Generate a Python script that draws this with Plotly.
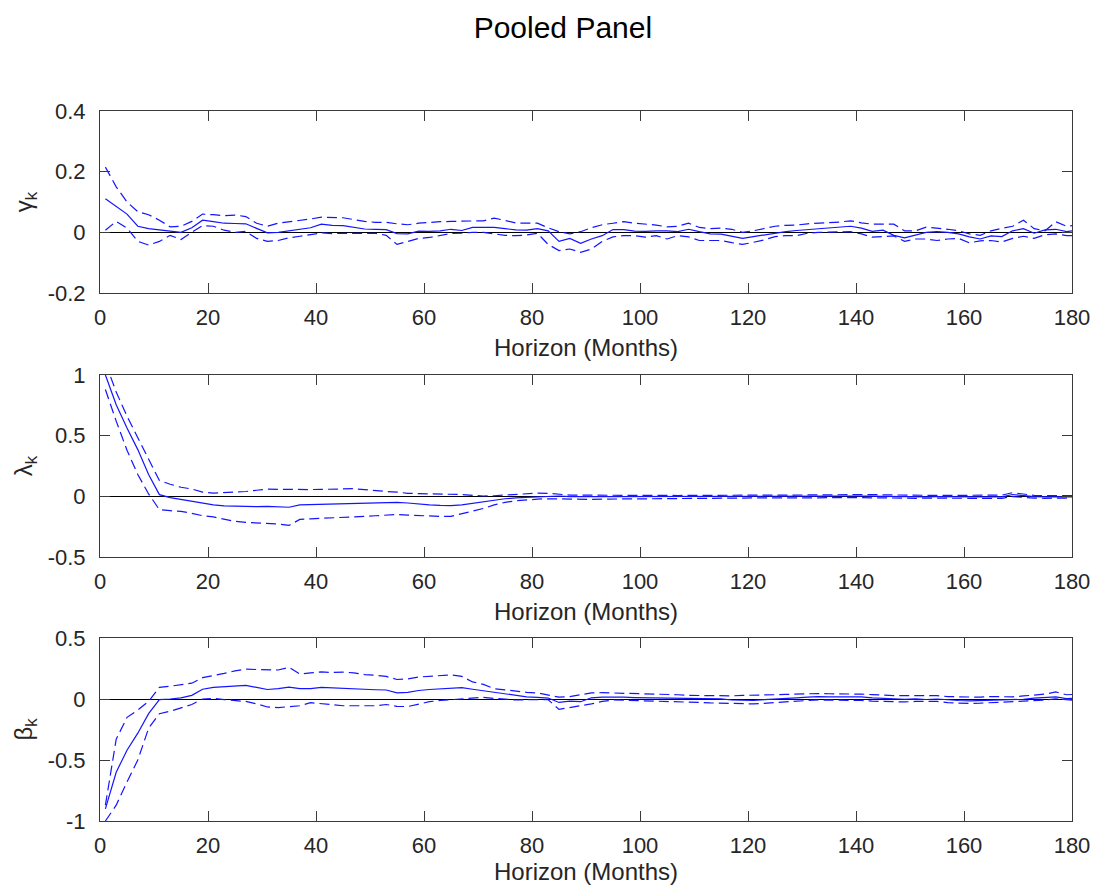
import plotly.graph_objects as go

# Horizons (months) at which the impulse responses are shown
horizon = list(range(1, 180, 2)) + [180]

# gamma_k: point estimate and confidence band
gamma_mid = [
    0.111, 0.085, 0.060, 0.020, 0.012, 0.008, 0.003, 0.000, 0.015, 0.040,
    0.035, 0.030, 0.029, 0.028, 0.013, -0.002, 0.000, 0.005, 0.009, 0.015,
    0.027, 0.023, 0.022, 0.017, 0.011, 0.010, 0.009, -0.004, -0.005, 0.004,
    0.003, 0.005, 0.010, 0.006, 0.016, 0.016, 0.016, 0.012, 0.008, 0.007,
    0.012, 0.005, -0.030, -0.020, -0.036, -0.022, -0.011, 0.009, 0.009, 0.004,
    0.003, 0.005, 0.005, 0.002, 0.010, 0.002, -0.005, -0.006, -0.013, -0.020,
    -0.014, -0.008, -0.003, 0.002, 0.006, 0.009, 0.012, 0.014, 0.017, 0.020,
    0.014, 0.003, 0.007, -0.010, -0.018, -0.010, 0.000, 0.002, 0.000, -0.005,
    -0.015, -0.022, -0.012, -0.014, 0.005, 0.012, -0.003, 0.008, 0.010, 0.002,
    0.005,
]
gamma_hi = [
    0.215, 0.150, 0.100, 0.068, 0.058, 0.040, 0.018, 0.020, 0.036, 0.060,
    0.058, 0.055, 0.057, 0.052, 0.030, 0.020, 0.030, 0.034, 0.038, 0.044,
    0.050, 0.050, 0.048, 0.042, 0.036, 0.033, 0.033, 0.028, 0.025, 0.030,
    0.033, 0.035, 0.036, 0.036, 0.036, 0.038, 0.047, 0.038, 0.031, 0.030,
    0.030, 0.015, 0.002, -0.005, 0.002, 0.015, 0.025, 0.030, 0.035, 0.030,
    0.027, 0.024, 0.018, 0.020, 0.030, 0.016, 0.012, 0.014, 0.010, 0.000,
    0.005, 0.012, 0.020, 0.023, 0.024, 0.028, 0.030, 0.030, 0.034, 0.038,
    0.031, 0.027, 0.027, 0.027, 0.005, 0.005, 0.017, 0.014, 0.010, 0.005,
    -0.005, -0.010, 0.005, 0.013, 0.020, 0.040, 0.012, 0.005, 0.035, 0.020,
    0.022,
]
gamma_lo = [
    0.007, 0.036, 0.014, -0.030, -0.042, -0.030, -0.010, -0.024, 0.000, 0.022,
    0.020, 0.007, 0.000, 0.003, -0.020, -0.030, -0.027, -0.018, -0.013, -0.008,
    -0.002, -0.004, -0.004, -0.004, -0.004, -0.003, -0.010, -0.040, -0.030, -0.020,
    -0.017, -0.011, -0.004, -0.003, 0.000, 0.000, -0.005, -0.010, -0.011, -0.009,
    -0.003, -0.040, -0.060, -0.055, -0.066, -0.055, -0.030, -0.015, -0.011, -0.011,
    -0.016, -0.011, -0.022, -0.011, -0.015, -0.027, -0.027, -0.027, -0.034, -0.040,
    -0.033, -0.025, -0.014, -0.011, -0.011, -0.003, 0.000, 0.000, 0.000, 0.002,
    -0.005, -0.016, -0.014, -0.012, -0.030, -0.022, -0.022, -0.027, -0.022, -0.020,
    -0.035, -0.028, -0.027, -0.032, -0.020, -0.013, -0.020, -0.008, -0.005, -0.011,
    -0.011,
]

# lambda_k: point estimate and confidence band
lambda_mid = [
    1.000, 0.755, 0.563, 0.385, 0.180, 0.014, -0.010, -0.025, -0.045, -0.058,
    -0.070, -0.078, -0.082, -0.085, -0.085, -0.082, -0.085, -0.090, -0.070, -0.068,
    -0.065, -0.062, -0.060, -0.060, -0.058, -0.056, -0.053, -0.050, -0.055, -0.065,
    -0.070, -0.075, -0.077, -0.070, -0.058, -0.045, -0.030, -0.020, -0.013, -0.008,
    -0.005, 0.000, 0.003, -0.002, -0.004, -0.004, -0.003, -0.002, -0.002, -0.003,
    -0.003, -0.004, -0.004, -0.003, -0.003, -0.002, -0.002, -0.001, 0.000, 0.001,
    0.001, 0.000, -0.001, -0.001, -0.002, -0.001, 0.000, 0.002, 0.003, 0.004,
    0.003, 0.002, 0.000, -0.002, -0.003, -0.004, -0.004, -0.003, -0.002, -0.002,
    -0.003, -0.004, -0.005, -0.004, 0.015, 0.005, -0.002, -0.004, -0.005, -0.004,
    -0.004,
]
lambda_hi = [
    1.100, 0.860, 0.660, 0.480, 0.300, 0.130, 0.100, 0.075, 0.060, 0.035,
    0.027, 0.030, 0.033, 0.040, 0.050, 0.060, 0.058, 0.056, 0.055, 0.056,
    0.057, 0.058, 0.062, 0.063, 0.055, 0.045, 0.040, 0.035, 0.025, 0.022,
    0.020, 0.020, 0.020, 0.015, 0.008, 0.003, 0.005, 0.010, 0.018, 0.025,
    0.027, 0.025, 0.015, 0.010, 0.010, 0.009, 0.008, 0.008, 0.008, 0.007,
    0.007, 0.006, 0.006, 0.007, 0.008, 0.009, 0.010, 0.010, 0.011, 0.012,
    0.012, 0.011, 0.010, 0.010, 0.011, 0.012, 0.014, 0.016, 0.018, 0.018,
    0.017, 0.015, 0.012, 0.010, 0.008, 0.008, 0.007, 0.008, 0.008, 0.008,
    0.007, 0.006, 0.007, 0.010, 0.030, 0.020, 0.008, 0.006, 0.005, 0.006,
    0.006,
]
lambda_lo = [
    0.880, 0.620, 0.380, 0.180, 0.020, -0.110, -0.118, -0.124, -0.140, -0.160,
    -0.170, -0.190, -0.206, -0.215, -0.220, -0.225, -0.228, -0.240, -0.190, -0.185,
    -0.182, -0.180, -0.175, -0.170, -0.165, -0.160, -0.155, -0.150, -0.155, -0.160,
    -0.165, -0.165, -0.165, -0.145, -0.120, -0.100, -0.070, -0.050, -0.037, -0.028,
    -0.023, -0.020, -0.022, -0.025, -0.027, -0.025, -0.023, -0.022, -0.021, -0.020,
    -0.020, -0.019, -0.018, -0.018, -0.017, -0.016, -0.015, -0.015, -0.014, -0.013,
    -0.012, -0.012, -0.012, -0.013, -0.014, -0.013, -0.012, -0.010, -0.009, -0.009,
    -0.010, -0.012, -0.014, -0.015, -0.016, -0.016, -0.015, -0.014, -0.014, -0.015,
    -0.016, -0.017, -0.017, -0.016, -0.002, -0.010, -0.015, -0.016, -0.015, -0.014,
    -0.014,
]

# beta_k: point estimate and confidence band
beta_mid = [
    -0.900, -0.600, -0.420, -0.280, -0.120, -0.005, 0.000, 0.010, 0.030, 0.080,
    0.096, 0.100, 0.102, 0.112, 0.095, 0.078, 0.085, 0.098, 0.085, 0.086,
    0.095, 0.090, 0.088, 0.085, 0.080, 0.076, 0.074, 0.050, 0.055, 0.070,
    0.078, 0.085, 0.092, 0.093, 0.080, 0.068, 0.055, 0.045, 0.032, 0.018,
    0.014, 0.008, -0.028, -0.018, -0.022, 0.010, 0.016, 0.018, 0.015, 0.012,
    0.010, 0.008, 0.012, 0.006, 0.004, 0.006, 0.003, 0.002, -0.008, -0.010,
    -0.012, -0.005, 0.002, 0.005, 0.010, 0.015, 0.020, 0.018, 0.020, 0.020,
    0.018, 0.010, 0.004, 0.000, -0.002, 0.002, -0.004, 0.000, -0.008, -0.012,
    -0.016, -0.014, -0.010, -0.008, -0.010, -0.002, 0.008, 0.012, 0.018, 0.004,
    0.006,
]
beta_hi = [
    -0.870, -0.330, -0.150, -0.090, -0.020, 0.096, 0.105, 0.115, 0.130, 0.175,
    0.190, 0.210, 0.230, 0.245, 0.242, 0.240, 0.238, 0.260, 0.205, 0.215,
    0.222, 0.218, 0.220, 0.215, 0.200, 0.195, 0.185, 0.160, 0.165, 0.180,
    0.185, 0.190, 0.198, 0.185, 0.140, 0.120, 0.085, 0.075, 0.062, 0.055,
    0.050, 0.035, 0.015, 0.020, 0.035, 0.050, 0.052, 0.050, 0.048, 0.047,
    0.045, 0.040, 0.038, 0.035, 0.030, 0.028, 0.030, 0.028, 0.026, 0.030,
    0.030, 0.030, 0.035, 0.038, 0.040, 0.046, 0.045, 0.043, 0.044, 0.044,
    0.040, 0.036, 0.030, 0.028, 0.028, 0.030, 0.026, 0.028, 0.020, 0.018,
    0.016, 0.015, 0.020, 0.016, 0.018, 0.025, 0.035, 0.040, 0.058, 0.035,
    0.037,
]
beta_lo = [
    -1.000, -0.870, -0.680, -0.500, -0.240, -0.120, -0.100, -0.070, -0.045, 0.000,
    0.005, -0.005, -0.015, -0.020, -0.040, -0.065, -0.070, -0.060, -0.055, -0.030,
    -0.040, -0.050, -0.055, -0.055, -0.057, -0.055, -0.045, -0.060, -0.062, -0.040,
    -0.022, -0.012, -0.005, 0.002, 0.010, 0.014, 0.005, -0.002, -0.008, -0.006,
    -0.005, -0.006, -0.085, -0.070, -0.057, -0.040, -0.020, -0.008, -0.010, -0.012,
    -0.012, -0.015, -0.018, -0.022, -0.025, -0.028, -0.032, -0.035, -0.036, -0.040,
    -0.040, -0.035, -0.028, -0.024, -0.018, -0.012, -0.008, -0.008, -0.010, -0.010,
    -0.012, -0.018, -0.022, -0.026, -0.024, -0.020, -0.018, -0.020, -0.030, -0.035,
    -0.036, -0.034, -0.030, -0.030, -0.025, -0.020, -0.012, -0.008, 0.002, -0.008,
    -0.010,
]

# Axis ticks and labels
x_ticks = [0, 20, 40, 60, 80, 100, 120, 140, 160, 180]
y1_ticks = [-0.2, 0, 0.2, 0.4]
y1_text = ["-0.2", "0", "0.2", "0.4"]
y2_ticks = [-0.5, 0, 0.5, 1]
y2_text = ["-0.5", "0", "0.5", "1"]
y3_ticks = [-1, -0.5, 0, 0.5]
y3_text = ["-1", "-0.5", "0", "0.5"]
panel_labels = ["γ<sub>k</sub>", "λ<sub>k</sub>", "β<sub>k</sub>"]
x_title = "Horizon (Months)"
fig_title = "Pooled Panel"

panels = [
    (gamma_mid, gamma_lo, gamma_hi, [-0.2, 0.4], y1_ticks, y1_text, [0.7437, 1.0]),
    (lambda_mid, lambda_lo, lambda_hi, [-0.5, 1.0], y2_ticks, y2_text, [0.3718, 0.6282]),
    (beta_mid, beta_lo, beta_hi, [-1.0, 0.5], y3_ticks, y3_text, [0.0, 0.2577]),
]

BLUE = "rgb(20,20,255)"
AXIS = "#3a3a3a"
TEXT = "#262626"
FONT = "Liberation Sans, Arial, Helvetica, sans-serif"

fig = go.Figure()
layout = {}
for i, (mid, lo, hi, yr, yt, ytxt, dom) in enumerate(panels, start=1):
    sfx = "" if i == 1 else str(i)
    xa, ya = "x" + sfx, "y" + sfx
    for series, dash in ((hi, "10px,5px"), (lo, "10px,5px"), (mid, "solid")):
        fig.add_trace(go.Scatter(
            x=horizon, y=series, xaxis=xa, yaxis=ya, mode="lines",
            line=dict(color=BLUE, width=1.2, dash=dash),
            showlegend=False, hoverinfo="skip",
        ))
    layout["xaxis" + sfx] = dict(
        domain=[0, 1], anchor=ya, range=[0, 180], tickvals=x_ticks,
        ticks="inside", ticklen=10, tickwidth=1, tickcolor=AXIS,
        showline=True, linecolor=AXIS, linewidth=1, mirror="ticks",
        showgrid=False, zeroline=False, ticklabelstandoff=5, automargin=False,
        tickfont=dict(size=22, color=TEXT, family=FONT),
        title=dict(text=x_title, standoff=9, font=dict(size=24, color=TEXT, family=FONT)),
    )
    layout["yaxis" + sfx] = dict(
        domain=dom, anchor=xa, range=yr, tickvals=yt, ticktext=ytxt,
        ticks="inside", ticklen=10, tickwidth=1, tickcolor=AXIS,
        showline=True, linecolor=AXIS, linewidth=1, mirror="ticks",
        showgrid=False, zeroline=True, zerolinecolor="#000000", zerolinewidth=1,
        ticklabelstandoff=9, automargin=False,
        tickfont=dict(size=22, color=TEXT, family=FONT),
        title=dict(text=panel_labels[i - 1], standoff=8,
                   font=dict(size=24, color=TEXT, family=FONT)),
    )

fig.update_layout(
    **layout,
    width=1093, height=885,
    margin=dict(l=100, r=21, t=111, b=64),
    paper_bgcolor="white", plot_bgcolor="white",
    title=dict(text=fig_title, x=0.515, xanchor="center", y=0.969, yanchor="middle",
               font=dict(size=30, color="#000000", family=FONT)),
)

fig.write_html("out.html")
